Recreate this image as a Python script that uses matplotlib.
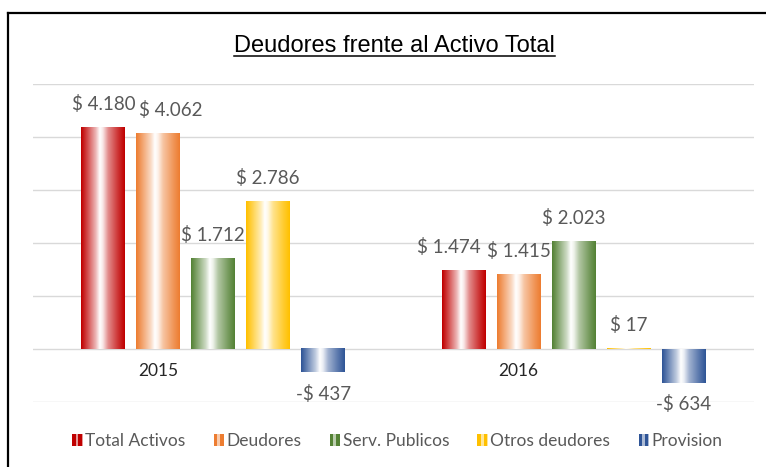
import matplotlib.pyplot as plt
import numpy as np
from matplotlib.colors import to_rgb
from matplotlib.lines import Line2D
from matplotlib.patches import Rectangle
from matplotlib.legend_handler import HandlerBase
from matplotlib.transforms import offset_copy

############################### Data #########################################
years = ["2015", "2016"]
series = ["Total Activos", "Deudores", "Serv. Publicos", "Otros deudores", "Provision"]
total_activos = [4180, 1474]
deudores = [4062, 1415]
serv_publicos = [1712, 2023]
otros_deudores = [2786, 17]
provision = [-437, -634]
values = [total_activos, deudores, serv_publicos, otros_deudores, provision]
colors = ["#C00000", "#ED7D31", "#548235", "#FFC000", "#2F5597"]

plt.rcParams['font.family'] = ['Lato', 'DejaVu Sans']
label_grey = "#595959"

# Excel nudged a couple of data labels sideways so they do not collide (points)
nudge = {(1, 0): 9, (0, 1): -11}


def fmt(v):
    s = "{:,}".format(abs(v)).replace(",", ".")
    return ("-$ " if v < 0 else "$ ") + s


def gradient_row(color, n=64):
    # dark edges, white stripe a bit left of centre (Excel style fill)
    c = np.array(to_rgb(color))
    stops = [0.0, 0.12, 0.33, 0.43, 0.50, 0.62, 0.85, 1.0]
    mix = [0.0, 0.25, 0.7, 1.0, 0.9, 0.55, 0.2, 0.0]
    t = np.linspace(0, 1, n)
    m = np.interp(t, stops, mix)[:, None]
    row = c * (1 - m) + np.ones(3) * m
    return row[None, :, :]


class GradHandler(HandlerBase):
    # legend key drawn as small vertical stripes, like the Excel gradient swatch
    def __init__(self, color):
        super().__init__()
        self.color = color

    def create_artists(self, legend, orig_handle, xdescent, ydescent, width, height, fontsize, trans):
        c = np.array(to_rgb(self.color))
        light = c * 0.4 + 0.6
        w = height * 0.85
        x0 = width - w
        parts = []
        stripes = [(0.0, 0.35, c), (0.35, 0.6, light), (0.6, 0.95, c), (0.95, 1.0, light)]
        for a, b, col in stripes:
            parts.append(Rectangle((x0 + a * w - xdescent, -ydescent), (b - a) * w, height,
                                   facecolor=col, edgecolor='none', transform=trans))
        return parts


######################################### Plot ################################################
fig = plt.figure(figsize=(7.66, 4.67), dpi=100)
ax = fig.add_axes([0.0431, 0.1392, 0.9412, 0.6809])

x = np.arange(len(years))
width = 0.122
step = 0.1524
handles = []
for i, (name, vals, col) in enumerate(zip(series, values, colors)):
    pos = x + (i - 2) * step
    bars = ax.bar(pos, vals, width, color='none', edgecolor='none', zorder=2, label=name)
    for j, (b, v) in enumerate(zip(bars, vals)):
        x0 = b.get_x()
        y0 = b.get_y()
        ax.imshow(gradient_row(col), extent=(x0, x0 + b.get_width(), y0, y0 + b.get_height()),
                  aspect='auto', zorder=2, interpolation='bilinear')
        xc = x0 + b.get_width() / 2
        tr = offset_copy(ax.transData, fig=fig, x=nudge.get((i, j), 0), y=0, units='points')
        if v >= 0:
            ax.text(xc, v + 330, fmt(v), ha='center', va='baseline', fontsize=13.5,
                    color=label_grey, transform=tr)
        else:
            ax.text(xc, v - 410, fmt(v), ha='center', va='center', fontsize=13.5,
                    color=label_grey, transform=tr)
    handles.append(bars)

ax.set_xlim(-0.5, 1.5)
ax.set_ylim(-1000, 5000)
ax.set_yticks(np.arange(-1000, 5001, 1000))
ax.yaxis.grid(True, color='#D9D9D9', linewidth=1)
ax.set_axisbelow(True)
ax.tick_params(left=False, bottom=False, labelleft=False, labelbottom=False)
for s in ax.spines.values():
    s.set_visible(False)

# category labels sit just under the zero line
for xi, yr in zip(x, years):
    ax.text(xi - 0.153, -420, yr, ha='center', va='center', fontsize=12.5, color='#262626')

# Title with underline sized to the text
title = fig.text(0.515, 1 - 52 / 467, "Deudores frente al Activo Total", ha='center', va='baseline',
                 fontsize=17, family='Liberation Sans', color='black')
fig.canvas.draw()
bb = title.get_window_extent().transformed(fig.transFigure.inverted())
fig.add_artist(Line2D([bb.x0, bb.x1], [1 - 56 / 467, 1 - 56 / 467], color='black', linewidth=1.1))

# Legend
leg = fig.legend(handles, series, loc='center', bbox_to_anchor=(0.517, 0.056), ncol=5,
                 frameon=False, fontsize=12.5, handlelength=0.75, handletextpad=0.15,
                 columnspacing=1.47,
                 handler_map={h: GradHandler(c) for h, c in zip(handles, colors)})
for t in leg.get_texts():
    t.set_color(label_grey)

# Outer frame (left and top edges)
fig.add_artist(Line2D([8 / 766, 8 / 766], [0, 1 - 13 / 467], color='black', linewidth=1.6))
fig.add_artist(Line2D([8 / 766, 1], [1 - 13 / 467, 1 - 13 / 467], color='black', linewidth=1.6))

plt.savefig("out.png", dpi=100)
